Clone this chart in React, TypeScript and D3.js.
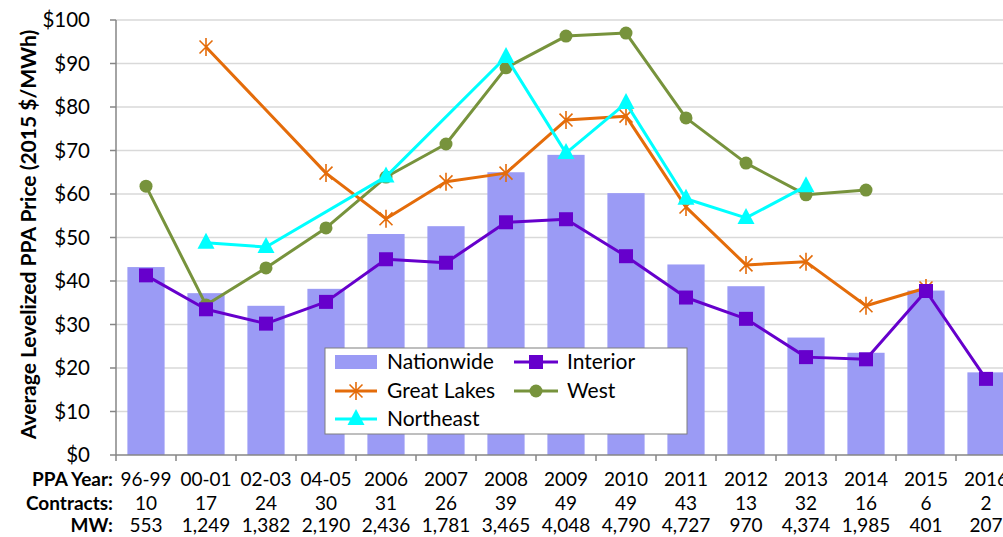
import * as d3 from "d3";

const categories = ["96-99", "00-01", "02-03", "04-05", "2006", "2007", "2008", "2009", "2010", "2011", "2012", "2013", "2014", "2015", "2016"];
const contracts = ["10", "17", "24", "30", "31", "26", "39", "49", "49", "43", "13", "32", "16", "6", "2"];
const mw = ["553", "1,249", "1,382", "2,190", "2,436", "1,781", "3,465", "4,048", "4,790", "4,727", "970", "4,374", "1,985", "401", "207"];

const nationwide = [43.2, 37.2, 34.3, 38.2, 50.8, 52.6, 65, 69, 60.2, 43.8, 38.8, 27, 23.5, 37.8, 19];
const interior = [41.3, 33.5, 30.2, 35.2, 45, 44.2, 53.5, 54.2, 45.7, 36.2, 31.3, 22.5, 22, 37.7, 17.5];
const greatLakes = [null, 93.8, null, 64.8, 54.3, 62.8, 64.8, 77, 77.9, 57, 43.7, 44.4, 34.3, 38.4, null];
const west = [61.8, 34.5, 43, 52.2, 63.9, 71.5, 89, 96.3, 97, 77.5, 67.1, 59.8, 60.9, null, null];
const northeast = [null, 48.8, 47.8, null, 64, null, 91.5, 69.4, 80.9, 58.9, 54.5, 61.8, null, null, null];

const yTicks = [0, 10, 20, 30, 40, 50, 60, 70, 80, 90, 100];

const C_BAR = "#9b9bf5";
const C_INT = "#6600cc";
const C_GL = "#e46c0a";
const C_WEST = "#77933c";
const C_NE = "#00ffff";
const FONT = "Lato, 'Open Sans', sans-serif";

const W = 1003;
const H = 537;
const left = 116;

const x = d3.scaleBand<string>().domain(categories).range([left, left + 900]).paddingInner(0.38).paddingOuter(0.19);
const y = d3.scaleLinear().domain([0, 100]).range([455, 20]);
const cx = (i: number) => (x(categories[i]) as number) + x.bandwidth() / 2;

type Pt = [number, number];
const toPts = (arr: (number | null)[]): Pt[] =>
  arr.map((v, i) => (v == null ? null : ([cx(i), y(v)] as Pt))).filter((p): p is Pt => p != null);

const line = d3.line<Pt>().x((d) => d[0]).y((d) => d[1]);

function Square({ px, py }: { px: number; py: number }) {
  return <rect x={px - 7} y={py - 7} width={14} height={14} fill={C_INT} />;
}
function Dot({ px, py }: { px: number; py: number }) {
  return <circle cx={px} cy={py} r={6.5} fill={C_WEST} />;
}
function Tri({ px, py }: { px: number; py: number }) {
  return <path d={`M${px},${py - 10}L${px + 8.5},${py + 6}L${px - 8.5},${py + 6}Z`} fill={C_NE} />;
}
function Star({ px, py }: { px: number; py: number }) {
  const r = 9;
  const a = r * 0.72;
  return (
    <path
      d={`M${px},${py - r}V${py + r}M${px - a},${py - a}L${px + a},${py + a}M${px - a},${py + a}L${px + a},${py - a}`}
      stroke={C_GL}
      strokeWidth={1.6}
      fill="none"
    />
  );
}

export default function App() {
  const step = x.step();
  const series = [
    { data: west, color: C_WEST, M: Dot },
    { data: greatLakes, color: C_GL, M: Star },
    { data: northeast, color: C_NE, M: Tri },
    { data: interior, color: C_INT, M: Square },
  ];
  return (
    <svg width={W} height={H} style={{ position: "absolute", left: 0, top: 0, background: "#fff" }} fontFamily={FONT}>
      {/* gridlines */}
      {yTicks.slice(1).map((t) => (
        <line key={t} x1={left} x2={W} y1={y(t)} y2={y(t)} stroke="#d9d9d9" strokeWidth={1.5} />
      ))}
      {/* bars */}
      {nationwide.map((v, i) => (
        <rect key={i} x={x(categories[i])} y={y(v)} width={x.bandwidth()} height={y(0) - y(v)} fill={C_BAR} />
      ))}
      {/* axes */}
      <line x1={left} x2={left} y1={y(100)} y2={y(0)} stroke="#868686" strokeWidth={1.5} />
      <line x1={left} x2={W} y1={y(0)} y2={y(0)} stroke="#868686" strokeWidth={1.5} />
      {yTicks.map((t) => (
        <g key={t}>
          <line x1={left - 6} x2={left} y1={y(t)} y2={y(t)} stroke="#868686" strokeWidth={1.5} />
          <text x={90} y={y(t)} dy="0.35em" textAnchor="end" fontSize={20.5} fill="#000">
            ${t}
          </text>
        </g>
      ))}
      {d3.range(categories.length + 1).map((i) => (
        <line key={i} x1={left + i * step} x2={left + i * step} y1={y(0)} y2={y(0) + 6} stroke="#868686" strokeWidth={1.5} />
      ))}
      <text
        transform={`translate(29,${y(50) - 3}) rotate(-90)`}
        textAnchor="middle"
        dy="0.35em"
        fontSize={21}
        fontWeight="bold"
      >
        Average Levelized PPA Price (2015 $/MWh)
      </text>
      {/* lines */}
      {series.map((s, k) => {
        const pts = toPts(s.data);
        return (
          <g key={k}>
            <path d={line(pts) as string} fill="none" stroke={s.color} strokeWidth={3} strokeLinejoin="round" />
            {pts.map((p, j) => (
              <s.M key={j} px={p[0]} py={p[1]} />
            ))}
          </g>
        );
      })}
      {/* legend */}
      <g>
        <rect x={325} y={348} width={362} height={86} fill="#fff" stroke="#7f7f7f" strokeWidth={1} />
        <rect x={335} y={355} width={42} height={14} fill={C_BAR} />
        <text x={387} y={362} dy="0.35em" fontSize={21}>Nationwide</text>
        <line x1={335} x2={377} y1={391} y2={391} stroke={C_GL} strokeWidth={3} />
        <Star px={356} py={391} />
        <text x={387} y={391} dy="0.35em" fontSize={21}>Great Lakes</text>
        <line x1={335} x2={377} y1={419} y2={419} stroke={C_NE} strokeWidth={3} />
        <Tri px={356} py={419} />
        <text x={387} y={419} dy="0.35em" fontSize={21}>Northeast</text>
        <line x1={514} x2={558} y1={362} y2={362} stroke={C_INT} strokeWidth={3} />
        <Square px={536} py={362} />
        <text x={567} y={362} dy="0.35em" fontSize={21}>Interior</text>
        <line x1={514} x2={558} y1={391} y2={391} stroke={C_WEST} strokeWidth={3} />
        <Dot px={536} py={391} />
        <text x={567} y={391} dy="0.35em" fontSize={21}>West</text>
      </g>
      {/* table */}
      {[
        { label: "PPA Year:", vals: categories, yy: 479 },
        { label: "Contracts:", vals: contracts, yy: 503 },
        { label: "MW:", vals: mw, yy: 525 },
      ].map((row) => (
        <g key={row.label}>
          <text x={113} y={row.yy} dy="0.35em" textAnchor="end" fontSize={19} fontWeight="bold">
            {row.label}
          </text>
          {row.vals.map((v, i) => (
            <text key={i} x={cx(i)} y={row.yy} dy="0.35em" textAnchor="middle" fontSize={19}>
              {v}
            </text>
          ))}
        </g>
      ))}
    </svg>
  );
}
